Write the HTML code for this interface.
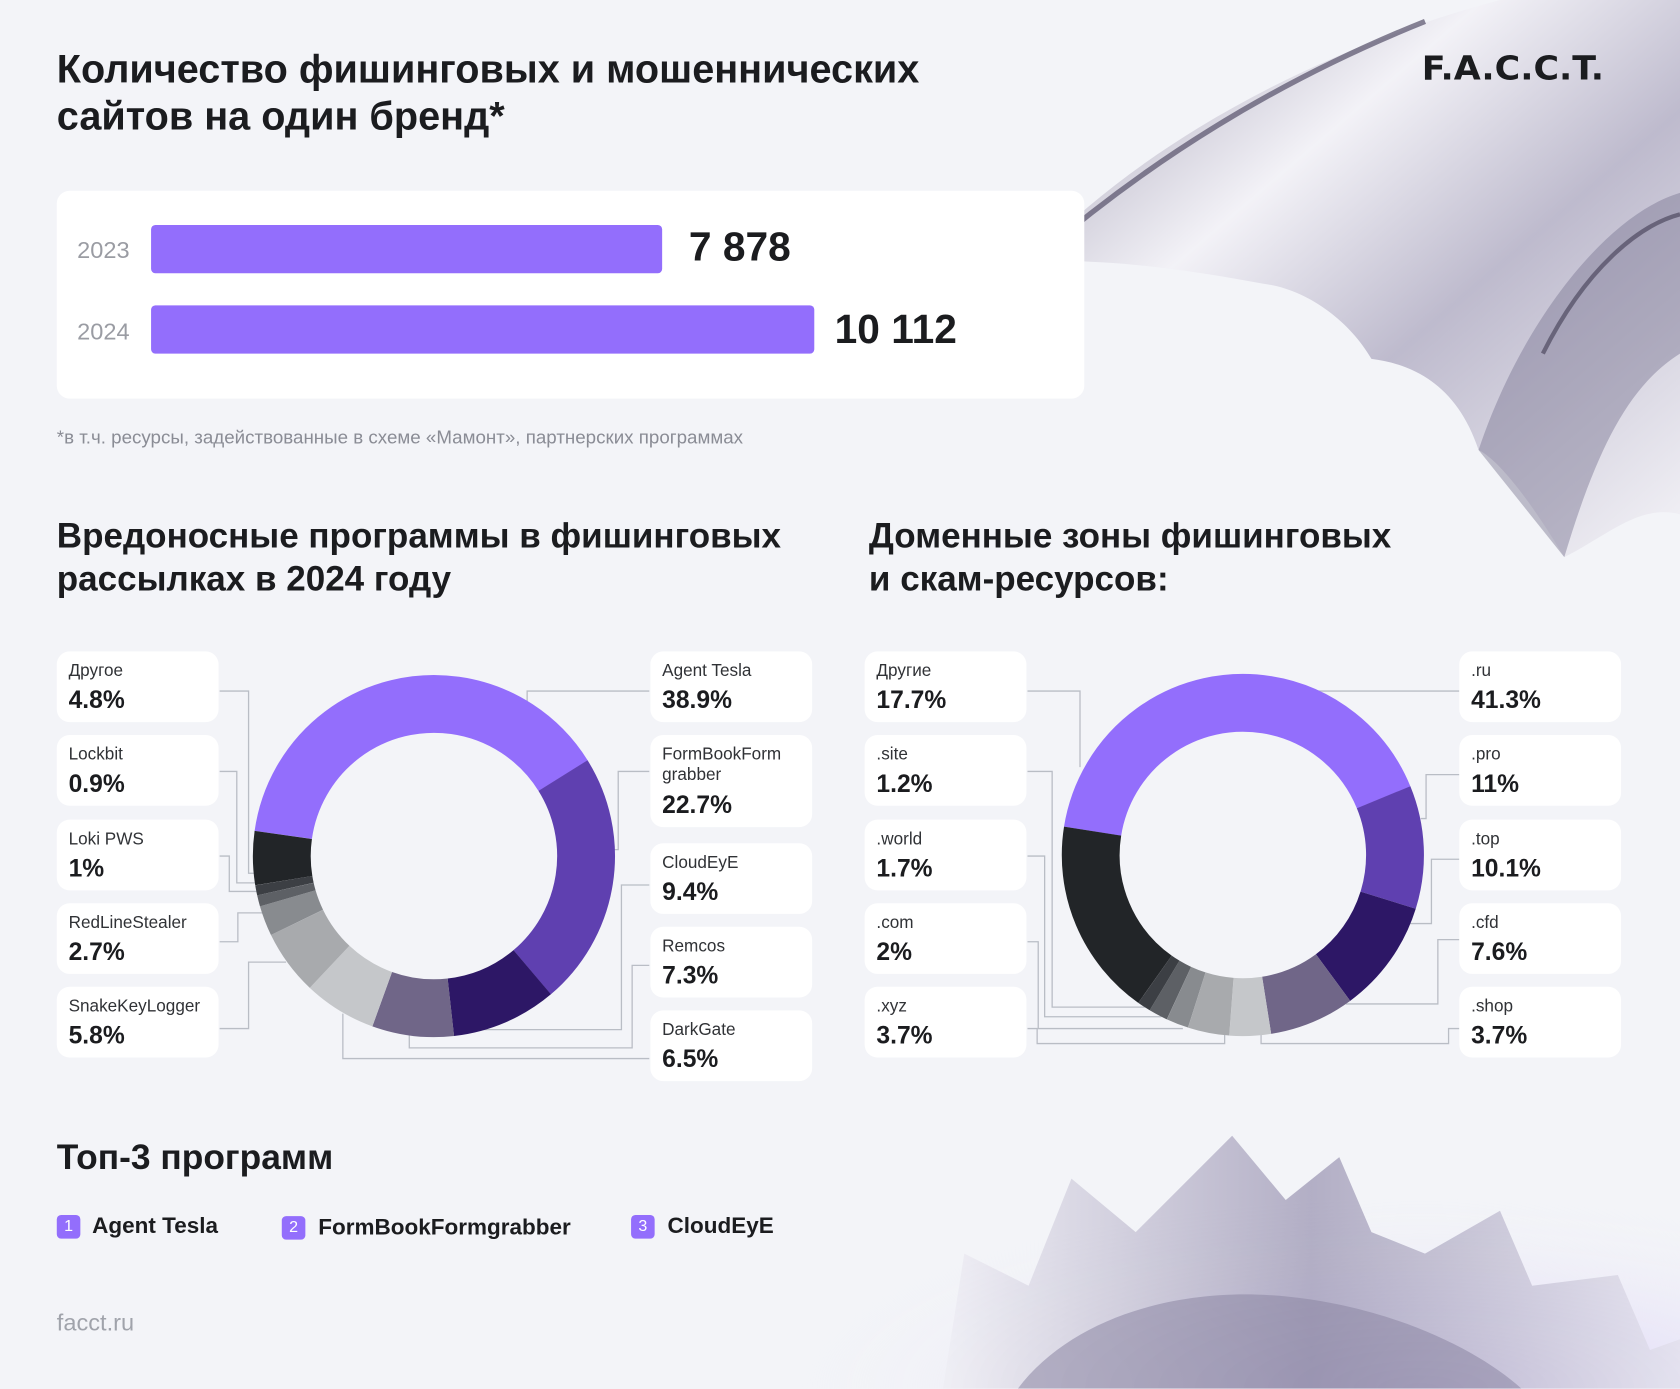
<!DOCTYPE html>
<html><head><meta charset="utf-8">
<style>
html,body{margin:0;padding:0;background:#f3f4f8;}
body{width:1680px;height:1389px;overflow:hidden;position:relative;font-family:"Liberation Sans","DejaVu Sans",sans-serif;}
#w{position:absolute;left:0;top:0;width:1568px;height:1296px;transform:scale(1.07143);transform-origin:0 0;}
.t{position:absolute;color:#1b1c1f;font-weight:bold;}
.card{position:absolute;background:#fff;border-radius:12px;width:151px;height:66px;}
.card .n{position:absolute;left:11px;top:9px;font-size:16px;color:#303236;line-height:19px;}
.card .v{position:absolute;left:11px;font-size:23px;font-weight:bold;color:#1b1c1f;}
.badge{position:absolute;width:22px;height:22px;border-radius:4px;background:#936efc;color:#fff;font-size:15px;text-align:center;line-height:22px;}
.it{position:absolute;font-size:21px;font-weight:bold;color:#1b1c1f;}
</style></head><body><div id="w">
<svg width="1568" height="1296" style="position:absolute;left:0;top:0">
<defs>
<linearGradient id="cg" x1="0" y1="0" x2="1" y2="1">
<stop offset="0" stop-color="#8a85a0"/><stop offset="0.35" stop-color="#f2f1f7"/><stop offset="0.6" stop-color="#b4b0c6"/><stop offset="1" stop-color="#f4f3f8"/></linearGradient>
<linearGradient id="cg2" x1="0" y1="0" x2="1" y2="0">
<stop offset="0" stop-color="#eeedf4"/><stop offset="0.5" stop-color="#a29db8"/><stop offset="1" stop-color="#e2e0ec"/></linearGradient>
<radialGradient id="glow" cx="0.75" cy="1" r="0.6"><stop offset="0" stop-color="#d4c8f7"/><stop offset="1" stop-color="#f3f4f8" stop-opacity="0"/></radialGradient>
</defs>
<rect x="600" y="1000" width="968" height="296" fill="url(#glow)"/>
<path d="M960 245 C1080 120 1250 40 1400 0 L1568 0 L1568 480 C1530 470 1500 500 1460 520 C1430 470 1400 430 1380 420 C1360 360 1320 340 1280 335 C1260 300 1220 270 1180 265 C1100 250 1020 240 960 245 Z" fill="url(#cg)" opacity="0.85"/>
<path d="M965 243 C1060 160 1180 80 1330 20" fill="none" stroke="#55506a" stroke-width="5" opacity="0.7"/>
<path d="M1380 420 C1420 300 1500 200 1568 180 L1568 330 C1520 360 1490 420 1460 520 Z" fill="#7a7590" opacity="0.45"/>
<path d="M1440 330 C1480 250 1530 210 1568 200" fill="none" stroke="#3f3b52" stroke-width="4" opacity="0.6"/>
<path d="M880 1296 L900 1170 L960 1200 L1000 1100 L1060 1150 L1150 1060 L1200 1120 L1250 1080 L1280 1150 L1330 1170 L1400 1130 L1430 1200 L1510 1190 L1540 1260 L1568 1250 L1568 1296 Z" fill="url(#cg2)" opacity="0.8"/>
<path d="M950 1296 C1000 1230 1100 1200 1200 1210 C1300 1220 1380 1260 1420 1296 Z" fill="#8a85a3" opacity="0.55"/>
<!-- connectors -->
<g fill="none" stroke="#b9bdc5" stroke-width="1.2">
<polyline points="205,645 232,645 232,815 242,815"/>
<polyline points="205,720 221,720 221,824 240,824"/>
<polyline points="205,799 214,799 214,832 242,832"/>
<polyline points="205,879 222,879 222,852 248,852"/>
<polyline points="205,960 232,960 232,898 267,898"/>
<polyline points="606,645 492,645 492,655"/>
<polyline points="606,720 577,720 577,793 573,793"/>
<polyline points="606,826 580,826 580,961 450,961"/>
<polyline points="606,901 590,901 590,978 382,978 382,966"/>
<polyline points="606,988 320,988 320,946"/>
<polyline points="959,645 1008,645 1008,716"/>
<polyline points="959,720 982,720 982,940 1069,940"/>
<polyline points="959,799 975,799 975,949 1084,949"/>
<polyline points="959,879 969,879 969,960 1104,960"/>
<polyline points="959,960 968,960 968,974 1143,974 1143,966"/>
<polyline points="1362,645 1229,645"/>
<polyline points="1362,723 1331,723 1331,764 1326,764"/>
<polyline points="1362,802 1336,802 1336,862 1316,862"/>
<polyline points="1362,877 1342,877 1342,937 1256,937"/>
<polyline points="1362,960 1352,960 1352,974 1177,974 1177,966"/>
</g>
<g fill="none" stroke-width="54">
<circle cx="405" cy="799" r="142" stroke="#936efc" stroke-dasharray="347.1 892.2" transform="rotate(188 405 799)"/>
<circle cx="405" cy="799" r="142" stroke="#5f40b0" stroke-dasharray="202.5 892.2" transform="rotate(-31.96 405 799)"/>
<circle cx="405" cy="799" r="142" stroke="#2d1766" stroke-dasharray="83.9 892.2" transform="rotate(49.76 405 799)"/>
<circle cx="405" cy="799" r="142" stroke="#706688" stroke-dasharray="65.1 892.2" transform="rotate(83.6 405 799)"/>
<circle cx="405" cy="799" r="142" stroke="#c5c7ca" stroke-dasharray="58.0 892.2" transform="rotate(109.88 405 799)"/>
<circle cx="405" cy="799" r="142" stroke="#a8aaad" stroke-dasharray="51.7 892.2" transform="rotate(133.28 405 799)"/>
<circle cx="405" cy="799" r="142" stroke="#888b8f" stroke-dasharray="24.1 892.2" transform="rotate(154.16 405 799)"/>
<circle cx="405" cy="799" r="142" stroke="#5d6065" stroke-dasharray="8.9 892.2" transform="rotate(163.88 405 799)"/>
<circle cx="405" cy="799" r="142" stroke="#3c3f44" stroke-dasharray="8.0 892.2" transform="rotate(167.48 405 799)"/>
<circle cx="405" cy="799" r="142" stroke="#222528" stroke-dasharray="42.8 892.2" transform="rotate(170.72 405 799)"/>
</g>
<g fill="none" stroke-width="54">
<circle cx="1160" cy="798" r="142" stroke="#936efc" stroke-dasharray="368.5 892.2" transform="rotate(189 1160 798)"/>
<circle cx="1160" cy="798" r="142" stroke="#5f40b0" stroke-dasharray="98.1 892.2" transform="rotate(-22.32 1160 798)"/>
<circle cx="1160" cy="798" r="142" stroke="#2d1766" stroke-dasharray="90.1 892.2" transform="rotate(17.28 1160 798)"/>
<circle cx="1160" cy="798" r="142" stroke="#706688" stroke-dasharray="67.8 892.2" transform="rotate(53.64 1160 798)"/>
<circle cx="1160" cy="798" r="142" stroke="#c5c7ca" stroke-dasharray="33.0 892.2" transform="rotate(81 1160 798)"/>
<circle cx="1160" cy="798" r="142" stroke="#a8aaad" stroke-dasharray="33.0 892.2" transform="rotate(94.32 1160 798)"/>
<circle cx="1160" cy="798" r="142" stroke="#888b8f" stroke-dasharray="17.8 892.2" transform="rotate(107.64 1160 798)"/>
<circle cx="1160" cy="798" r="142" stroke="#5d6065" stroke-dasharray="15.2 892.2" transform="rotate(114.84 1160 798)"/>
<circle cx="1160" cy="798" r="142" stroke="#3c3f44" stroke-dasharray="10.7 892.2" transform="rotate(120.96 1160 798)"/>
<circle cx="1160" cy="798" r="142" stroke="#222528" stroke-dasharray="157.9 892.2" transform="rotate(125.28 1160 798)"/>
</g>
</svg>

<div class="t" style="left:53px;top:43px;font-size:37px;line-height:44px;">Количество фишинговых и мошеннических<br>сайтов на один бренд*</div>
<div class="t" style="left:1327px;top:46px;font-size:31px;letter-spacing:0px;font-family:'DejaVu Sans',sans-serif;transform:scaleX(1.05);transform-origin:0 0;">F.A.C.C.T.</div>

<div style="position:absolute;left:53px;top:178px;width:959px;height:194px;background:#fff;border-radius:12px;"></div>
<div style="position:absolute;left:72px;top:221px;font-size:22px;color:#9a9ca3;">2023</div>
<div style="position:absolute;left:141px;top:210px;width:477px;height:45px;background:#936efc;border-radius:4px;"></div>
<div class="t" style="left:643px;top:210px;font-size:38px;">7 878</div>
<div style="position:absolute;left:72px;top:297px;font-size:22px;color:#9a9ca3;">2024</div>
<div style="position:absolute;left:141px;top:285px;width:619px;height:45px;background:#936efc;border-radius:4px;"></div>
<div class="t" style="left:779px;top:287px;font-size:38px;">10 112</div>
<div style="position:absolute;left:53px;top:398px;font-size:17.5px;color:#8a8c95;">*в т.ч. ресурсы, задействованные в схеме «Мамонт», партнерских программах</div>

<div class="t" style="left:53px;top:480px;font-size:32.7px;line-height:40px;">Вредоносные программы в фишинговых<br>рассылках в 2024 году</div>
<div class="t" style="left:811px;top:480px;font-size:32.7px;line-height:40px;">Доменные зоны фишинговых<br>и скам-ресурсов:</div>

<div class="card" style="left:53px;top:608px"><div class="n">Другое</div><div class="v" style="top:32px">4.8%</div></div>
<div class="card" style="left:53px;top:686px"><div class="n">Lockbit</div><div class="v" style="top:32px">0.9%</div></div>
<div class="card" style="left:53px;top:765px"><div class="n">Loki PWS</div><div class="v" style="top:32px">1%</div></div>
<div class="card" style="left:53px;top:843px"><div class="n">RedLineStealer</div><div class="v" style="top:32px">2.7%</div></div>
<div class="card" style="left:53px;top:921px"><div class="n">SnakeKeyLogger</div><div class="v" style="top:32px">5.8%</div></div>

<div class="card" style="left:607px;top:608px"><div class="n">Agent Tesla</div><div class="v" style="top:32px">38.9%</div></div>
<div class="card" style="left:607px;top:686px;height:86px"><div class="n">FormBookForm<br>grabber</div><div class="v" style="top:52px">22.7%</div></div>
<div class="card" style="left:607px;top:787px"><div class="n">CloudEyE</div><div class="v" style="top:32px">9.4%</div></div>
<div class="card" style="left:607px;top:865px"><div class="n">Remcos</div><div class="v" style="top:32px">7.3%</div></div>
<div class="card" style="left:607px;top:943px"><div class="n">DarkGate</div><div class="v" style="top:32px">6.5%</div></div>

<div class="card" style="left:807px;top:608px"><div class="n">Другие</div><div class="v" style="top:32px">17.7%</div></div>
<div class="card" style="left:807px;top:686px"><div class="n">.site</div><div class="v" style="top:32px">1.2%</div></div>
<div class="card" style="left:807px;top:765px"><div class="n">.world</div><div class="v" style="top:32px">1.7%</div></div>
<div class="card" style="left:807px;top:843px"><div class="n">.com</div><div class="v" style="top:32px">2%</div></div>
<div class="card" style="left:807px;top:921px"><div class="n">.xyz</div><div class="v" style="top:32px">3.7%</div></div>

<div class="card" style="left:1362px;top:608px"><div class="n">.ru</div><div class="v" style="top:32px">41.3%</div></div>
<div class="card" style="left:1362px;top:686px"><div class="n">.pro</div><div class="v" style="top:32px">11%</div></div>
<div class="card" style="left:1362px;top:765px"><div class="n">.top</div><div class="v" style="top:32px">10.1%</div></div>
<div class="card" style="left:1362px;top:843px"><div class="n">.cfd</div><div class="v" style="top:32px">7.6%</div></div>
<div class="card" style="left:1362px;top:921px"><div class="n">.shop</div><div class="v" style="top:32px">3.7%</div></div>

<div class="t" style="left:53px;top:1061px;font-size:33px;">Топ-3 программ</div>
<div class="badge" style="left:53px;top:1134px">1</div><div class="it" style="left:86px;top:1133px">Agent Tesla</div>
<div class="badge" style="left:263px;top:1135px">2</div><div class="it" style="left:297px;top:1134px">FormBookFormgrabber</div>
<div class="badge" style="left:589px;top:1134px">3</div><div class="it" style="left:623px;top:1133px">CloudEyE</div>
<div style="position:absolute;left:53px;top:1222px;font-size:22px;color:#a0a3ab;">facct.ru</div>
</div></body></html>
